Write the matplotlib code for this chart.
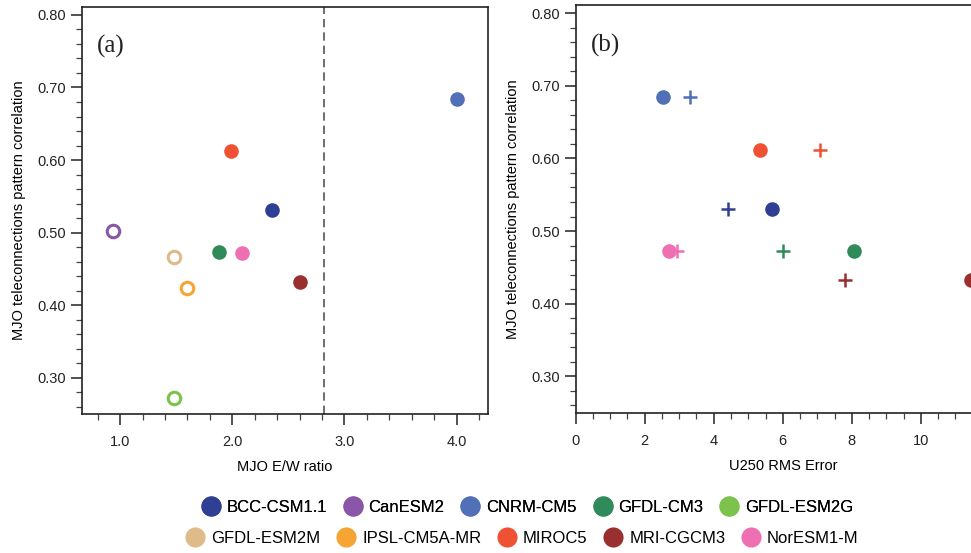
import numpy as np
import matplotlib.pyplot as plt
from matplotlib.lines import Line2D

plt.rcParams['font.family'] = ['Liberation Sans', 'DejaVu Sans']

models = ['BCC-CSM1.1', 'CanESM2', 'CNRM-CM5', 'GFDL-CM3', 'GFDL-ESM2G',
          'GFDL-ESM2M', 'IPSL-CM5A-MR', 'MIROC5', 'MRI-CGCM3', 'NorESM1-M']
colors = ['#2f3f93', '#8a56a8', '#5170b8', '#2f8c5a', '#7dc24c',
          '#e0bb8a', '#f6a433', '#ee5233', '#992f2f', '#ee70b2']
# open symbols = models not shown in panel (b)
filled = [True, False, True, True, False, False, False, True, True, True]

ew_ratio = [2.35, 0.94, 4.00, 1.88, 1.48, 1.48, 1.60, 1.99, 2.60, 2.09]
pattern_corr = [0.531, 0.502, 0.684, 0.473, 0.272, 0.467, 0.424, 0.612, 0.432, 0.472]

# panel (b): circles and plus signs (nan = not plotted)
u250_circle = [5.68, np.nan, 2.52, 8.05, np.nan, np.nan, np.nan, 5.34, 11.45, 2.70]
u250_plus = [4.42, np.nan, 3.31, 6.02, np.nan, np.nan, np.nan, 7.08, 7.81, 2.93]

fig = plt.figure(figsize=(9.71, 5.53), dpi=100)
ax1 = fig.add_axes([0.0845, 0.2514, 0.418, 0.736])
ax2 = fig.add_axes([0.5929, 0.2537, 0.4265, 0.737])

for i in range(len(models)):
    if filled[i]:
        ax1.plot(ew_ratio[i], pattern_corr[i], 'o', color=colors[i], ms=10.5, mec='none')
    else:
        ax1.plot(ew_ratio[i], pattern_corr[i], 'o', mfc='white', mec=colors[i], ms=9, mew=2.2)
ax1.axvline(2.82, color='#555555', lw=1.2, ls=(0, (5, 3)))

for i in range(len(models)):
    if np.isnan(u250_circle[i]):
        continue
    ax2.plot(u250_circle[i], pattern_corr[i], 'o', color=colors[i], ms=10.5, mec='none', clip_on=False)
    ax2.plot(u250_plus[i], pattern_corr[i], '+', color=colors[i], ms=10, mew=1.8)

ax1.set_xlim(0.66, 4.28)
ax1.set_xticks([1.0, 2.0, 3.0, 4.0])
ax1.set_xticklabels(['1.0', '2.0', '3.0', '4.0'])
ax1.set_xticks(np.arange(0.8, 4.21, 0.2), minor=True)
ax1.set_xlabel('MJO E/W ratio', fontsize=10.5, labelpad=8)

ax2.set_xlim(0, 12)
ax2.set_xticks([0, 2, 4, 6, 8, 10])
ax2.set_xticks(np.arange(0, 12.01, 0.5), minor=True)
ax2.set_xlabel('U250 RMS Error', fontsize=10.5, labelpad=8)

for ax, lab in [(ax1, '(a)'), (ax2, '(b)')]:
    ax.set_ylim(0.25, 0.811)
    ax.set_yticks([0.3, 0.4, 0.5, 0.6, 0.7, 0.8])
    ax.set_yticklabels(['0.30', '0.40', '0.50', '0.60', '0.70', '0.80'])
    ax.set_yticks(np.arange(0.26, 0.81, 0.02), minor=True)
    ax.set_ylabel('MJO teleconnections pattern correlation', fontsize=10.5, labelpad=8)
    ax.tick_params(which='major', direction='out', length=8, width=1.1, labelsize=10.5,
                   colors='#222222')
    ax.tick_params(which='minor', direction='out', length=4.5, width=0.9, colors='#444444')
    ax.tick_params(axis='x', pad=7)
    for s in ax.spines.values():
        s.set_linewidth(1.2)
        s.set_color('#222222')
    ax.text(0.037, 0.902, lab, transform=ax.transAxes, fontsize=18, va='center',
            family=['Liberation Serif', 'DejaVu Serif'], color='#222222')

handles = [Line2D([], [], marker='o', ls='none', color=c, ms=14.5, mec='none') for c in colors]
leg_kw = dict(ncol=5, loc='center', frameon=False, fontsize=12, handletextpad=0.35,
              columnspacing=0.95, handlelength=1.2)
leg1 = fig.legend(handles[:5], models[:5], bbox_to_anchor=(0.5427, 0.083), **leg_kw)
fig.add_artist(leg1)
fig.legend(handles[5:], models[5:], bbox_to_anchor=(0.5376, 0.027), **leg_kw)

plt.savefig('out.png', dpi=100)
